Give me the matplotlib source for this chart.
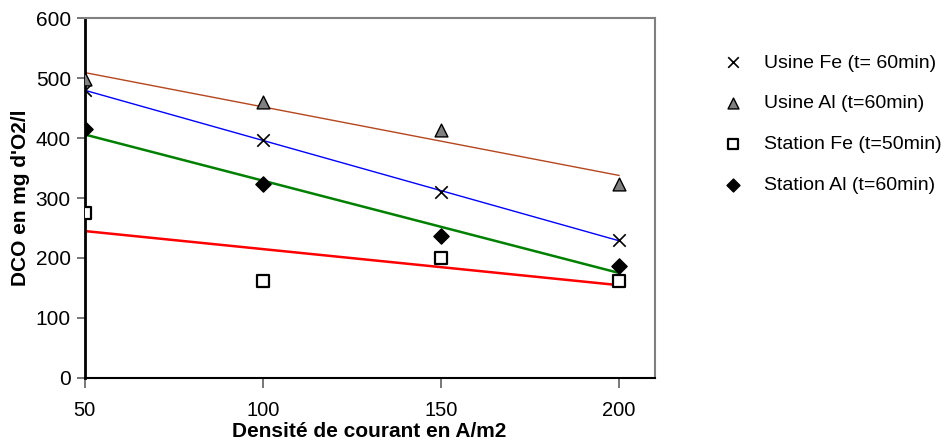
import numpy as np
import matplotlib.pyplot as plt

plt.rcParams['font.family'] = ['Liberation Sans', 'DejaVu Sans']

# densite de courant (A/m2)
x = [50, 100, 150, 200]

# DCO (mg d'O2/l)
usine_fe = [480, 397, 310, 230]
usine_al = [498, 460, 413, 323]
station_fe = [275, 162, 200, 162]
station_al = [415, 323, 237, 187]

labels = ['Usine Fe (t= 60min)', 'Usine Al (t=60min)',
          'Station Fe (t=50min)', 'Station Al (t=60min)']

fig = plt.figure(figsize=(9.53, 4.44), dpi=100)
ax = fig.add_axes([0.0889, 0.149, 0.598, 0.810])

xs = np.array([50, 200])

# trend lines (linear fit)
trend = [(usine_al, '#b5461e', 1.0), (usine_fe, '#0000ff', 1.0),
         (station_al, '#008000', 1.8), (station_fe, '#ff0000', 1.8)]
for y, c, lw in trend:
    p = np.polyfit(x, y, 1)
    ax.plot(xs, np.polyval(p, xs), color=c, lw=lw, zorder=2)

ax.scatter(x, usine_fe, marker='x', s=80, color='black', linewidths=1.2, label=labels[0], zorder=3)
ax.scatter(x, usine_al, marker='^', s=85, facecolor='#808080', edgecolor='black', linewidths=1.0, label=labels[1], zorder=3)
ax.scatter(x, station_fe, marker='s', s=65, facecolor='white', edgecolor='black', linewidths=1.6, label=labels[2], zorder=3)
ax.scatter(x, station_al, marker='D', s=60, facecolor='black', edgecolor='black', label=labels[3], zorder=3)

ax.set_xlim(50, 210)
ax.set_ylim(0, 600)
ax.set_xticks([50, 100, 150, 200])
ax.set_yticks(range(0, 601, 100))

for s in ['top', 'right']:
    ax.spines[s].set_color('#808080')
    ax.spines[s].set_linewidth(1.5)
ax.spines['left'].set_color('black')
ax.spines['left'].set_linewidth(2)
ax.spines['bottom'].set_color('black')
ax.spines['bottom'].set_linewidth(1.5)

ax.tick_params(axis='x', direction='out', length=7, width=1.2, color='#606060', pad=10, labelsize=14.5)
ax.tick_params(axis='y', direction='out', length=6, width=1.2, color='#606060', pad=4, labelsize=15)

ax.set_xlabel('Densité de courant en A/m2', fontsize=15, fontweight='bold', labelpad=1)
ax.set_ylabel("DCO en mg d'O2/l", fontsize=15, fontweight='bold', labelpad=4)

fig.legend(loc='upper left', bbox_to_anchor=(0.73, 0.918), frameon=False,
           fontsize=14, labelspacing=1.2, handletextpad=0.6, scatterpoints=1,
           markerscale=0.85)

fig.savefig('out.png', dpi=100)
